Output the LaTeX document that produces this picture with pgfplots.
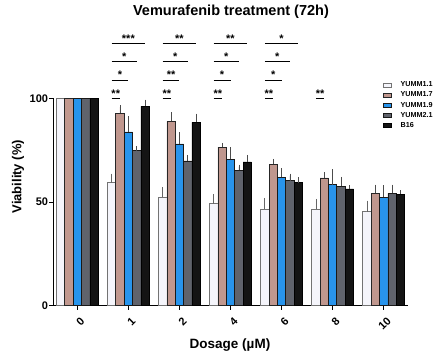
\documentclass[border=0pt]{standalone}
\usepackage{fontspec}
\setmainfont{Liberation Sans}
\usepackage{pgfplots}
\pgfplotsset{compat=1.18}
\definecolor{cWhite}{HTML}{F5F5FB}
\definecolor{cBrown}{HTML}{C0978E}
\definecolor{cBlue}{HTML}{2894EC}
\definecolor{cGray}{HTML}{60636C}
\definecolor{cBlack}{HTML}{141414}
\begin{document}
\begin{tikzpicture}
\useasboundingbox (-53.3pt,-56.3pt) rectangle (391.7pt,305.7pt);
\tikzset{ast/.style={font=\bfseries\fontsize{11}{12}\selectfont, anchor=base, inner sep=0pt}}
\begin{axis}[
  at={(0pt,0pt)}, anchor=south west,
  scale only axis, width=354.4pt, height=207.4pt,
  xmin=-0.47, xmax=6.47, ymin=0, ymax=100,
  axis x line*=bottom, axis y line*=left,
  axis line style={line width=0.9pt, -},
  ybar=0pt, bar width=0.164,
  xtick={0,1,2,3,4,5,6}, xticklabels={0,1,2,4,6,8,10},
  ytick={0,50,100},
  tick align=outside, major tick length=4pt,
  tick style={line width=0.8pt, black},
  /pgf/number format/assume math mode=true,
  yticklabel style={font=\bfseries\fontsize{11}{12}\selectfont, inner sep=1pt},
  xticklabel style={font=\bfseries\fontsize{11}{12}\selectfont, rotate=45, anchor=north east, inner sep=0pt, xshift=-3pt, yshift=-6.5pt},
  clip=false,
  legend style={at={(0.929,1.085)}, anchor=north west, draw=none, fill=none,
    font=\bfseries\fontsize{7.2}{8}\selectfont, row sep=1.6pt, inner sep=0pt,
    nodes={inner sep=1pt},
    /tikz/every odd column/.append style={column sep=8pt}},
  legend cell align=left,
  legend image code/.code={\draw[#1, line width=0.6pt] (0pt,-2.2pt) rectangle (8.3pt,2.2pt);},
  error bars/y dir=plus, error bars/y explicit,
  error bars/error bar style={line width=0.7pt},
  error bars/error mark options={line width=0.7pt, mark size=2pt},
]
\addplot[fill=cWhite, draw=black!55, line width=0.7pt, error bars/error bar style={draw=black!60}, error bars/error mark options={draw=black!60, mark size=2pt, line width=0.7pt}]
  coordinates {(0,100) (1,59.3)+-(0,3.4) (2,52.4)+-(0,3.7) (3,49.2)+-(0,3.7) (4,46.6)+-(0,4.4) (5,46.6)+-(0,3.9) (6,45.3)+-(0,4.4)};
\addplot[fill=cBrown, draw=black!85, line width=0.7pt, error bars/error bar style={draw=black!70}, error bars/error mark options={draw=black!70, mark size=2pt, line width=0.7pt}]
  coordinates {(0,100) (1,92.8)+-(0,2.9) (2,88.9)+-(0,3.5) (3,76.4)+-(0,1.1) (4,68.3)+-(0,1.5) (5,61.6)+-(0,1.9) (6,54.2)+-(0,3.2)};
\addplot[fill=cBlue, draw=black!90, line width=0.7pt, error bars/error bar style={draw=black!70}, error bars/error mark options={draw=black!70, mark size=2pt, line width=0.7pt}]
  coordinates {(0,100) (1,83.8)+-(0,6.6) (2,78.0)+-(0,4.6) (3,70.6)+-(0,4.8) (4,61.9)+-(0,3.5) (5,58.3)+-(0,6.6) (6,52.3)+-(0,4.8)};
\addplot[fill=cGray, draw=black!90, line width=0.7pt, error bars/error bar style={draw=black!70}, error bars/error mark options={draw=black!70, mark size=2pt, line width=0.7pt}]
  coordinates {(0,100) (1,74.7)+-(0,1.2) (2,69.8)+-(0,2.0) (3,65.3)+-(0,1.7) (4,60.3)+-(0,2.4) (5,57.6)+-(0,3.5) (6,54.2)+-(0,3.2)};
\addplot[fill=cBlack, draw=black, line width=0.7pt, error bars/error bar style={draw=black!70}, error bars/error mark options={draw=black!70, mark size=2pt, line width=0.7pt}]
  coordinates {(0,100) (1,96.1)+-(0,2.3) (2,88.4)+-(0,3.2) (3,69.3)+-(0,2.5) (4,59.3)+-(0,1.6) (5,56.3)+-(0,0.9) (6,53.7)+-(0,1.1)};
\legend{YUMM1.1,YUMM1.7,YUMM1.9,YUMM2.1,B16}
% significance annotations: row 4 (white vs brown)
\draw[line width=0.8pt] (axis cs:0.671,100) -- (axis cs:0.836,100);
\draw[line width=0.8pt] (axis cs:1.671,100) -- (axis cs:1.836,100);
\draw[line width=0.8pt] (axis cs:2.671,100) -- (axis cs:2.836,100);
\draw[line width=0.8pt] (axis cs:3.671,100) -- (axis cs:3.836,100);
\draw[line width=0.8pt] (axis cs:4.671,100) -- (axis cs:4.836,100);
\node[ast] at (axis cs:0.7535,100.6) {**};
\node[ast] at (axis cs:1.7535,100.6) {**};
\node[ast] at (axis cs:2.7535,100.6) {**};
\node[ast] at (axis cs:3.7535,100.6) {**};
\node[ast] at (axis cs:4.7535,100.6) {**};
% row 3 (white vs blue)
\draw[line width=0.8pt] (axis cs:0.671,108.8) -- (axis cs:1,108.8);
\draw[line width=0.8pt] (axis cs:1.671,108.8) -- (axis cs:2,108.8);
\draw[line width=0.8pt] (axis cs:2.671,108.8) -- (axis cs:3,108.8);
\draw[line width=0.8pt] (axis cs:3.671,108.8) -- (axis cs:4,108.8);
\node[ast] at (axis cs:0.8355,109.4) {*};
\node[ast] at (axis cs:1.8355,109.4) {**};
\node[ast] at (axis cs:2.8355,109.4) {*};
\node[ast] at (axis cs:3.8355,109.4) {*};
% row 2 (white vs gray)
\draw[line width=0.8pt] (axis cs:0.671,117.6) -- (axis cs:1.164,117.6);
\draw[line width=0.8pt] (axis cs:1.671,117.6) -- (axis cs:2.164,117.6);
\draw[line width=0.8pt] (axis cs:2.671,117.6) -- (axis cs:3.164,117.6);
\draw[line width=0.8pt] (axis cs:3.671,117.6) -- (axis cs:4.164,117.6);
\node[ast] at (axis cs:0.9175,118.2) {*};
\node[ast] at (axis cs:1.9175,118.2) {*};
\node[ast] at (axis cs:2.9175,118.2) {*};
\node[ast] at (axis cs:3.9175,118.2) {*};
% row 1 (white vs black)
\draw[line width=0.8pt] (axis cs:0.671,126.5) -- (axis cs:1.329,126.5);
\draw[line width=0.8pt] (axis cs:1.671,126.5) -- (axis cs:2.329,126.5);
\draw[line width=0.8pt] (axis cs:2.671,126.5) -- (axis cs:3.329,126.5);
\draw[line width=0.8pt] (axis cs:3.671,126.5) -- (axis cs:4.329,126.5);
\node[ast] at (axis cs:1,127.1) {***};
\node[ast] at (axis cs:2,127.1) {**};
\node[ast] at (axis cs:3,127.1) {**};
\node[ast] at (axis cs:4,127.1) {*};
\end{axis}
\node[font=\bfseries\fontsize{14.5}{16}\selectfont] at (177.7pt,293.7pt) {Vemurafenib treatment (72h)};
\node[font=\bfseries\fontsize{13}{15}\selectfont, rotate=90] at (-35.3pt,129pt) {Viability (\%)};
\node[font=\bfseries\fontsize{13.5}{15}\selectfont] at (176.7pt,-39.3pt) {Dosage (µM)};
\end{tikzpicture}
\end{document}
